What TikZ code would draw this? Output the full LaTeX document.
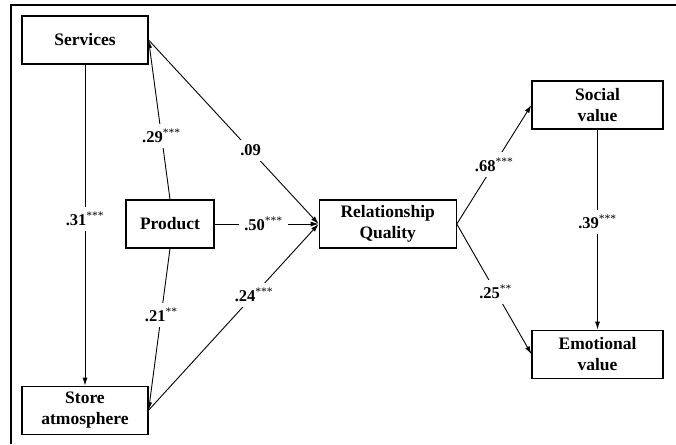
\documentclass[tikz,border=0pt]{standalone}
\usepackage{fontspec}
\setmainfont{Liberation Serif}
\usetikzlibrary{arrows.meta}
\usetikzlibrary{positioning}

\newcommand{\sig}[2]{#1\textsuperscript{\mdseries #2}}

\begin{document}
\begin{tikzpicture}[x=1pt,y=-1pt,line width=0.9pt,>={Latex[length=8pt,width=5pt]},
	var/.style={draw,line width=1.2pt,minimum height=48pt,inner sep=0pt,align=center,font=\fontsize{17.5}{20.5}\selectfont\bfseries},
	coef/.style={fill=white,inner sep=5pt,font=\fontsize{16.5}{18}\selectfont\bfseries}]
	\useasboundingbox (0,0) rectangle (676,444);
	\draw[line width=1.5pt] (11,444) -- (11,5) -- (676,5);

	\node[var, minimum width=126pt] (SE) at (85,40) {Services};
	\node[var, minimum width=126pt, below=321pt of SE] (SA) {Store\\atmosphere};
	\node[var, minimum width=88pt] (PR) at (170,224) {Product};
	\node[var, minimum width=137pt, right=104pt of PR] (RQ) {Relationship\\Quality};
	\node[var, minimum width=131pt] (SV) at (597.5,105) {Social\\value};
	\node[var, minimum width=131pt, below=200pt of SV] (EV) {Emotional\\value};

	\path[->]
	(SE.south)	edge	node[coef,pos=0.48]{\sig{.31}{***}}	(SA.north)
	(PR.north)	edge	node[coef,pos=0.4]{\sig{.29}{***}}	(SE.east)
	(SE.east)	edge	node[coef,pos=0.6]{.09}	(RQ.west)
	(PR.east)	edge	node[coef,pos=0.47]{\sig{.50}{***}}	(RQ.west)
	(PR.south)	edge	node[coef,pos=0.41]{\sig{.21}{**}}	(SA.east)
	(SA.east)	edge	node[coef,pos=0.62]{\sig{.24}{***}}	(RQ.west)
	(RQ.east)	edge	node[coef,pos=0.5]{\sig{.68}{***}}	(SV.west)
	(RQ.east)	edge	node[coef,pos=0.52]{\sig{.25}{**}}	(EV.west)
	(SV.south)	edge	node[coef,pos=0.46]{\sig{.39}{***}}	(EV.north);
\end{tikzpicture}
\end{document}
